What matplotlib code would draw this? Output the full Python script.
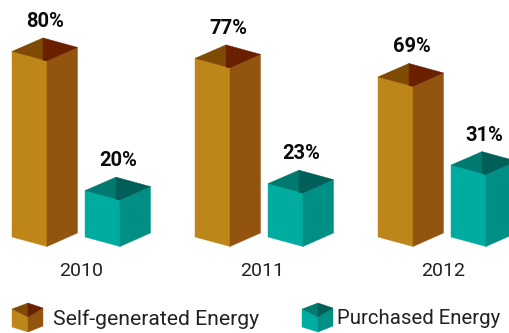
import matplotlib
matplotlib.use("Agg")
import matplotlib.pyplot as plt
from matplotlib.patches import Polygon

years = ["2010", "2011", "2012"]
self_generated = [80, 77, 69]
purchased = [20, 23, 31]
series_names = ["Self-generated Energy", "Purchased Energy"]

W, H = 509, 333
PX_PER_PCT = 2.32
BASE = 237  # pixel row of value 0
GOLD = ["#BE8519", "#93540F", "#7F4A04", "#6A1F00"]
TEAL = ["#00AC9F", "#008F85", "#007A70", "#005F58"]
GOLD_X = [12, 195, 378]
TEAL_X = [85, 268, 451]
YEAR_X = [81.5, 262, 443.5]

plt.rcParams["font.family"] = ["Roboto", "DejaVu Sans"]
fig = plt.figure(figsize=(W / 100, H / 100), dpi=100)
ax = fig.add_axes([0, 0, 1, 1])
ax.set_xlim(0, W)
ax.set_ylim(-(H - BASE) / PX_PER_PCT, BASE / PX_PER_PCT)
ax.axis("off")


def py(px_row):
    return (BASE - px_row) / PX_PER_PCT


def d(px):
    return px / PX_PER_PCT


def poly(pts, color):
    ax.add_patch(Polygon(pts, closed=True, facecolor=color, edgecolor=color, linewidth=0.3))


def box(x, value, cols):
    lx, fx, rx, bx = x, x + 35, x + 65.5, x + 31
    fd, rd, bk = d(9.5), d(-4), d(-13.5)
    # front and right faces
    poly([(lx, 0), (fx, -fd), (fx, value - fd), (lx, value)], cols[0])
    poly([(fx, -fd), (rx, -rd), (rx, value - rd), (fx, value - fd)], cols[1])
    # top: interior seen from above
    poly([(lx, value), (bx, value - bk), (bx, value - fd + d(1)), (fx, value - fd)], cols[2])
    poly([(bx, value - bk), (rx, value - rd), (fx, value - fd), (bx, value - fd + d(1))], cols[3])
    ax.text(x + 33.5, value + d(30), f"{value}%", ha="center", va="center",
            fontsize=14.5, fontweight="bold", color="#0a0a0a")


for i, yr in enumerate(years):
    box(GOLD_X[i], self_generated[i], GOLD)
    box(TEAL_X[i], purchased[i], TEAL)
    ax.text(YEAR_X[i], py(271.5), yr, ha="center", va="center",
            fontsize=14, color="#222222")


def icon(x0, cols):
    l, f, r = x0, x0 + 16, x0 + 31
    poly([(l, py(309)), (f, py(317)), (f, py(332)), (l, py(327))], cols[0])
    poly([(f, py(317)), (r, py(308)), (r, py(326)), (f, py(332))], cols[1])
    poly([(l, py(309)), (f, py(303)), (f, py(317))], cols[2])
    poly([(f, py(303)), (r, py(308)), (f, py(317))], cols[3])


icon(12, GOLD)
icon(302, TEAL)
ax.text(53, py(319), series_names[0], ha="left", va="center", fontsize=15.2, color="#222222")
ax.text(337, py(319), series_names[1], ha="left", va="center", fontsize=14.7, color="#222222")

fig.savefig("out.png", dpi=100)
